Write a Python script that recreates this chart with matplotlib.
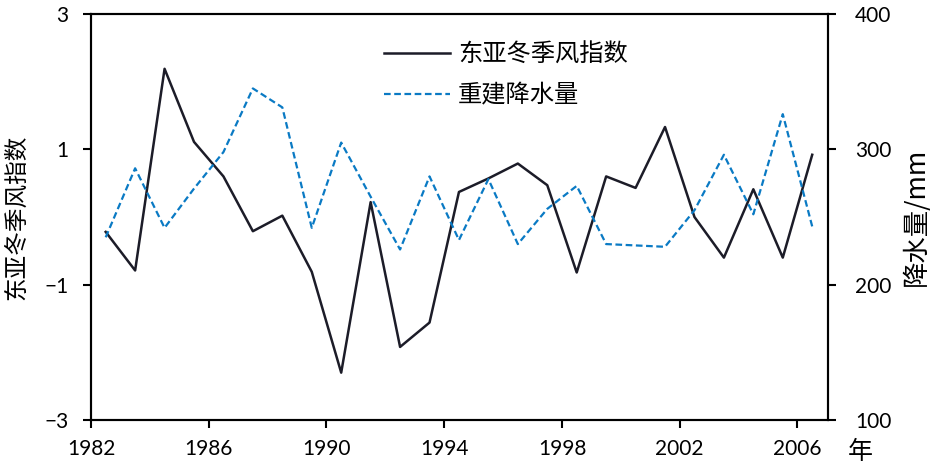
import numpy as np
import matplotlib.pyplot as plt

plt.rcParams['font.family'] = ['Lato', 'Noto Sans CJK SC', 'DejaVu Sans']
plt.rcParams['axes.unicode_minus'] = True

# data
years = list(range(1982, 2007))
ewm_index = [-0.22, -0.79, 2.19, 1.11, 0.60, -0.21, 0.02, -0.81, -2.30, 0.22,
             -1.92, -1.56, 0.37, 0.57, 0.79, 0.47, -0.82, 0.60, 0.43, 1.33,
             0.00, -0.60, 0.41, -0.60, 0.92]
precip = [235, 286, 242, 271, 298, 345, 331, 242, 305, 265,
          226, 280, 233, 278, 230, 256, 273, 230, 229, 228,
          255, 296, 252, 326, 243]
xticks = [1982, 1986, 1990, 1994, 1998, 2002, 2006]

cn = ['Noto Sans CJK SC', 'DejaVu Sans']

fig = plt.figure(figsize=(9.35, 4.76), dpi=100)
ax = fig.add_axes([0.0973, 0.1176, 0.7887, 0.853])
ax2 = ax.twinx()

x = np.array(years) + 0.5
l1, = ax.plot(x, ewm_index, color='#1c1c28', lw=1.8, label='东亚冬季风指数')
l2, = ax2.plot(x, precip, color='#0a7ac4', lw=1.6, ls=(0, (3, 1.6)), label='重建降水量')

ax.set_xlim(1982, 2007.05)
ax.set_ylim(-3, 3)
ax.set_yticks([-3, -1, 1, 3])
ax.set_xticks(xticks)
ax2.set_ylim(100, 400)
ax2.set_yticks([100, 200, 300, 400])

for a in (ax, ax2):
    for sp in a.spines.values():
        sp.set_linewidth(1.5)
ax.tick_params(axis='y', direction='out', length=6, width=1.5, pad=10, labelsize=15)
ax.tick_params(axis='x', direction='out', length=6, width=1.5, pad=8, labelsize=15)
ax2.tick_params(axis='y', direction='out', length=6, width=1.5, pad=13, labelsize=15)

ax.set_ylabel('东亚冬季风指数', family=cn, fontsize=17, labelpad=12)
ax2.set_ylabel('降水量/mm', family=cn, fontsize=19, labelpad=8)
fig.text(860 / 935, 1 - 452 / 476, '年', family=cn, fontsize=18, ha='center', va='center')

leg = ax.legend(handles=[l1, l2], loc='upper left', bbox_to_anchor=(362 / 935, 1 - 20 / 476),
                bbox_transform=fig.transFigure, frameon=False, handlelength=2.7,
                handletextpad=0.35, labelspacing=0.6, prop={'family': cn, 'size': 17.5})

fig.savefig('out.png', dpi=100)
